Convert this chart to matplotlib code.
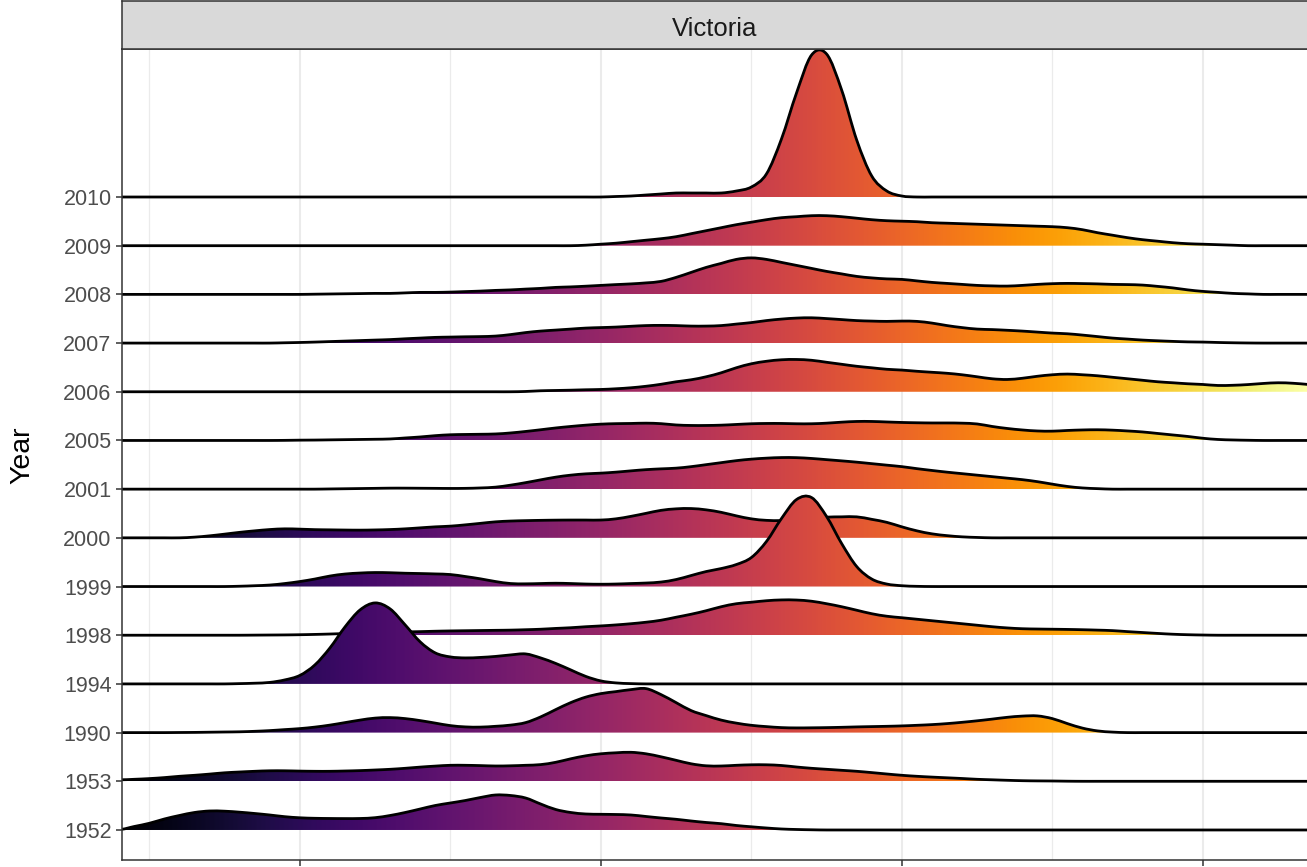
import numpy as np
import matplotlib.pyplot as plt
from matplotlib.path import Path
from matplotlib.patches import PathPatch

plt.rcParams['font.family'] = ['Liberation Sans', 'DejaVu Sans']

years = ['1952', '1953', '1990', '1994', '1998', '1999', '2000',
         '2001', '2005', '2006', '2007', '2008', '2009', '2010']

# density grid (x from 4 to 44.5, step 0.5)
x = np.linspace(4, 44.5, 82)

h1952 = [0.5, 3.5, 6.7, 11, 14.5, 17.5, 19, 18.8, 17.8, 16.5,
         15, 13.3, 12.2, 11.7, 11.5, 11.4, 11.5, 12.3, 14.5, 17.5,
         21, 24.5, 27, 29.5, 32.5, 35, 34.5, 32, 26, 20.5,
         17.5, 16, 15.7, 15.5, 15, 13.5, 12, 10.7, 9, 7.5,
         6.3, 4.5, 3.2, 2, 1, 0.5, 0.2, 0, 0, 0,
         0, 0, 0, 0, 0, 0, 0, 0, 0, 0,
         0, 0, 0, 0, 0, 0, 0, 0, 0, 0,
         0, 0, 0, 0, 0, 0, 0, 0, 0, 0,
         0, 0]
h1953 = [1.5, 2, 2.7, 3.7, 5, 6, 7.2, 8.5, 9.3, 10,
         10.5, 10.5, 10.2, 10, 10, 10.3, 10.7, 11.3, 12, 13,
         14.2, 15.2, 16, 16, 15.7, 15.3, 15.5, 16, 16.7, 19,
         22.5, 25.5, 27.5, 28.5, 29, 27.5, 24.5, 21, 17.5, 15.5,
         15.3, 16, 16.5, 16.5, 15.8, 14.3, 13, 12, 11, 10,
         8.7, 7.3, 6, 5, 4.2, 3.5, 2.8, 2, 1.5, 1,
         0.6, 0.4, 0.3, 0.1, 0, 0, 0, 0, 0, 0,
         0, 0, 0, 0, 0, 0, 0, 0, 0, 0,
         0, 0]
h1990 = [0, 0, 0, 0, 0.1, 0.2, 0.4, 0.6, 0.8, 1.3,
         2, 3, 4, 5.5, 7.5, 10, 12.5, 14.5, 15, 14,
         12, 9.5, 7, 5.7, 5.5, 6.3, 7.5, 10, 15.7, 23,
         30, 35.5, 39, 41, 43, 44, 38, 30, 22, 17,
         12.5, 9.5, 7.3, 6, 5, 4.7, 4.8, 5, 5.3, 5.7,
         6, 6.3, 6.7, 7.3, 8, 9, 10.3, 11.8, 13.5, 15.3,
         16.5, 16.7, 14, 9, 4.5, 1.7, 0.5, 0, 0, 0,
         0, 0, 0, 0, 0, 0, 0, 0, 0, 0,
         0, 0]
h1994 = [0, 0, 0, 0, 0, 0, 0, 0, 0.3, 0.7,
         1.5, 4, 8.5, 19, 36, 57, 74, 81, 75, 59,
         42, 31, 27, 26, 26.5, 27.5, 29, 30, 26, 20.5,
         14, 7.5, 3, 1, 0.3, 0, 0, 0, 0, 0,
         0, 0, 0, 0, 0, 0, 0, 0, 0, 0,
         0, 0, 0, 0, 0, 0, 0, 0, 0, 0,
         0, 0, 0, 0, 0, 0, 0, 0, 0, 0,
         0, 0, 0, 0, 0, 0, 0, 0, 0, 0,
         0, 0]
h1998 = [0, 0, 0, 0, 0, 0, 0, 0, 0, 0.1,
         0.2, 0.3, 0.5, 0.8, 1.2, 1.7, 2.2, 2.7, 3, 3.3,
         3.6, 4, 4.3, 4.5, 4.7, 4.9, 5.1, 5.5, 6, 6.8,
         7.5, 8.5, 9.3, 10.3, 11.5, 13, 15, 18, 21, 24.5,
         28.5, 31.5, 33, 34.5, 35.3, 35.2, 34, 31.5, 28.5, 25,
         21.5, 19, 17.5, 16, 14.5, 13, 11.5, 10, 8.5, 7.3,
         6.5, 6.2, 6, 5.8, 5.5, 5.1, 4.6, 3.6, 2.7, 1.8,
         1, 0.5, 0.2, 0, 0, 0, 0, 0, 0, 0,
         0, 0]
h1999 = [0, 0, 0, 0, 0, 0, 0, 0, 0.3, 0.8,
         1.5, 3, 5, 7.5, 10.5, 12.5, 13.5, 14, 13.8, 13.3,
         13, 12.6, 12, 10, 7.7, 5, 3, 2.7, 3, 3.3,
         3, 2.5, 2.3, 2.5, 3, 3.5, 4.5, 7, 11, 15,
         18, 22, 29, 45, 68, 87, 89, 70, 43, 20,
         7.5, 2.5, 0.8, 0.2, 0, 0, 0, 0, 0, 0,
         0, 0, 0, 0, 0, 0, 0, 0, 0, 0,
         0, 0, 0, 0, 0, 0, 0, 0, 0, 0,
         0, 0]
h2000 = [0, 0, 0, 0, 0, 0.7, 2, 3.7, 5.5, 7,
         8.3, 9, 8.7, 8.2, 8, 7.8, 7.7, 7.9, 8.3, 9,
         10, 11, 11.7, 13, 14.5, 16, 16.8, 17.2, 17.5, 17.7,
         17.8, 17.8, 17.8, 19, 21.5, 24.5, 27.5, 29, 29.3, 28,
         25.5, 22, 19, 17.5, 17.3, 18.2, 19.5, 20.7, 21, 21,
         18.5, 15.5, 11, 7, 4, 2.2, 1, 0.4, 0, 0,
         0, 0, 0, 0, 0, 0, 0, 0, 0, 0,
         0, 0, 0, 0, 0, 0, 0, 0, 0, 0,
         0, 0]
h2001 = [0, 0, 0, 0, 0, 0, 0, 0, 0, 0,
         0, 0, 0, 0, 0.2, 0.4, 0.6, 0.8, 1, 1,
         0.9, 0.8, 0.7, 0.8, 1.2, 2, 4, 6.5, 9.3, 12,
         14, 15.3, 16, 17, 18.3, 19.5, 20.3, 21, 22.5, 24.5,
         26.5, 28.5, 30, 31, 31.6, 31.5, 30.7, 29.5, 28.3, 27,
         25.5, 24, 22.5, 20.5, 18.7, 17, 15.5, 14, 12.5, 11,
         9.5, 7.5, 5, 2.7, 1.2, 0.5, 0, 0, 0, 0,
         0, 0, 0, 0, 0, 0, 0, 0, 0, 0,
         0, 0]
h2005 = [0, 0, 0, 0, 0, 0, 0, 0, 0, 0,
         0, 0.1, 0.3, 0.4, 0.6, 0.8, 1, 1.2, 1.5, 2.5,
         3.5, 4.8, 5.7, 6, 6.2, 6.5, 7.5, 9, 10.7, 12.5,
         14, 15.3, 16.3, 16.8, 17, 17.3, 16.8, 15.5, 15, 15,
         15.3, 16, 16.7, 17, 17, 16.7, 16.7, 17.3, 18.3, 19,
         19, 18.5, 18, 17.7, 17.5, 17.5, 17.3, 16.5, 14, 12,
         10.5, 9.5, 9.3, 10, 10.5, 10.7, 10.3, 9.5, 8.5, 7,
         5.5, 4, 2.2, 1, 0.5, 0.2, 0, 0, 0, 0,
         0, 0]
h2006 = [0, 0, 0, 0, 0, 0, 0, 0, 0, 0,
         0, 0, 0, 0, 0, 0, 0, 0, 0, 0,
         0, 0, 0, 0, 0, 0, 0, 0.3, 1, 1.3,
         1.6, 2, 2.3, 3, 4, 5.5, 7.5, 10, 12, 15,
         19, 24, 28, 30.5, 32, 32.3, 31.5, 29.5, 27.5, 25.5,
         24, 22.5, 21.7, 20.5, 19.5, 18.5, 17, 15, 13, 12.3,
         13.5, 15.5, 17, 17.7, 17, 16, 14.5, 13, 11.5, 10,
         9, 8, 7.3, 6.3, 6.5, 7.2, 8.3, 9, 8.5, 7.3,
         6, 4.5]
h2007 = [0, 0, 0, 0, 0, 0, 0, 0, 0, 0,
         0, 0.3, 0.6, 1, 1.5, 2, 2.5, 3, 3.5, 4.3,
         5, 5.7, 6, 6.3, 6.5, 7, 8.5, 10.5, 12, 13,
         14, 15, 15.5, 16, 16.8, 17.5, 17.7, 17.5, 17, 17,
         17.5, 19, 20.5, 22.5, 24, 25, 25.3, 24.5, 23.5, 22.5,
         22, 21.7, 22, 21.7, 20, 17.5, 15.5, 14, 13.5, 12.8,
         12, 11, 10, 9.3, 8, 6.5, 5, 4, 3, 2.3,
         1.7, 1.2, 1, 0.6, 0.3, 0.1, 0, 0, 0, 0,
         0, 0]
h2008 = [0, 0, 0, 0, 0, 0, 0, 0, 0, 0,
         0, 0, 0, 0.2, 0.4, 0.6, 0.8, 1, 1, 1.5,
         2, 2, 2.3, 2.8, 3.3, 4, 4.5, 5.3, 6, 7,
         7.5, 8.2, 9, 9.8, 10.5, 11.5, 13, 17, 22, 27,
         31, 35, 36.5, 35, 32, 29, 26, 23, 20.5, 18,
         16.5, 15.5, 15, 13.5, 12, 11, 10, 9, 8.5, 8.3,
         9, 10, 10.7, 11, 10.8, 10.5, 10, 9.8, 9.3, 8,
         6.5, 4.5, 3, 2, 1, 0.5, 0, 0, 0, 0,
         0, 0]
h2009 = [0, 0, 0, 0, 0, 0, 0, 0, 0, 0,
         0, 0, 0, 0, 0, 0, 0, 0, 0, 0,
         0, 0, 0, 0, 0, 0, 0, 0, 0, 0,
         0, 0.5, 1.5, 2.5, 4, 5.5, 7, 9, 12, 15,
         18, 21, 23.5, 26, 28, 29, 30, 30, 29, 27.5,
         26, 25, 24.5, 24, 23, 22.5, 22, 21.5, 21, 20.5,
         20, 19.5, 19, 18, 16, 13, 10.5, 8, 6, 4.5,
         3, 2, 1.5, 1, 0.5, 0, 0, 0, 0, 0,
         0, 0]
h2010 = [0, 0, 0, 0, 0, 0, 0, 0, 0, 0,
         0, 0, 0, 0, 0, 0, 0, 0, 0, 0,
         0, 0, 0, 0, 0, 0, 0, 0, 0, 0,
         0, 0, 0, 0.5, 1, 2, 3, 4, 4, 4,
         4, 6, 10, 23, 58, 104, 142, 143, 107, 57,
         21, 6, 1, 0, 0, 0, 0, 0, 0, 0,
         0, 0, 0, 0, 0, 0, 0, 0, 0, 0,
         0, 0, 0, 0, 0, 0, 0, 0, 0, 0,
         0, 0]

ridges = [h1952, h1953, h1990, h1994, h1998, h1999, h2000,
          h2001, h2005, h2006, h2007, h2008, h2009, h2010]

xmin, xmax = 4.09, 43.49
scale = 1 / 48.7


def smooth_path(xs, ys):
    # bezier segments through each point (drawn as a smooth line)
    ys = np.asarray(ys, float)
    dx = xs[1] - xs[0]
    m = np.zeros(len(ys))
    m[1:-1] = (ys[2:] - ys[:-2]) / 2
    m[ys == 0] = 0
    verts = [(xs[0], ys[0])]
    codes = [Path.MOVETO]
    for i in range(len(xs) - 1):
        verts += [(xs[i] + dx / 3, ys[i] + m[i] / 3),
                  (xs[i + 1] - dx / 3, ys[i + 1] - m[i + 1] / 3),
                  (xs[i + 1], ys[i + 1])]
        codes += [Path.CURVE4] * 3
    return verts, codes


fig = plt.figure(figsize=(13.07, 8.67), dpi=100)
ax = fig.add_axes([0.0933, 0.0081, 0.9074, 0.9354])

ax.set_xticks([10, 20, 30, 40])
ax.set_xticks([5, 15, 25, 35], minor=True)
ax.grid(True, which='major', axis='x', color='#EBEBEB', lw=1.5, zorder=0)
ax.grid(True, which='minor', axis='x', color='#EBEBEB', lw=0.9, zorder=0)
ax.tick_params(axis='x', which='minor', length=0)
ax.tick_params(axis='x', labelbottom=False)

grad = np.linspace(0, 1, 512).reshape(1, -1)
for k, h in enumerate(ridges):
    top = k + np.array(h) * scale
    z = 10 + (len(ridges) - k) * 2
    verts, codes = smooth_path(x, top)
    fill = PathPatch(Path(verts + [(x[-1], k), (x[0], k), (x[0], k)],
                          codes + [Path.LINETO, Path.LINETO, Path.CLOSEPOLY]),
                     fc='none', ec='none')
    ax.add_patch(fill)
    im = ax.imshow(grad, extent=(xmin, xmax, k, k + 3.2), aspect='auto',
                   cmap='inferno', origin='lower', zorder=z,
                   interpolation='bilinear')
    im.set_clip_path(fill)
    ax.add_patch(PathPatch(Path(verts, codes), fc='none', ec='black',
                           lw=2.0, zorder=z + 1, joinstyle='round'))

ax.set_xlim(xmin, xmax)
ax.set_ylim(-0.616, 16.04)
ax.set_yticks(range(len(years)))
ax.set_yticklabels(years)
ax.tick_params(axis='both', which='major', length=4.5, width=1.1,
               color='#333333', labelsize=15.5, labelcolor='#4D4D4D', pad=3)
for s in ax.spines.values():
    s.set_color('#333333')
    s.set_linewidth(1.1)
    s.set_zorder(100)

fig.text(0.0168, 1 - 455 / 867, 'Year', rotation=90, ha='center',
         va='center', fontsize=20.5)

# facet strip
sax = fig.add_axes([0.0933, 0.9435, 0.9074, 0.0554])
sax.set_facecolor('#D9D9D9')
sax.set_xticks([])
sax.set_yticks([])
for s in sax.spines.values():
    s.set_color('#333333')
    s.set_linewidth(1.1)
sax.text(0.5, 0.265, 'Victoria', ha='center', va='baseline', fontsize=18.5,
         color='#1A1A1A', transform=sax.transAxes)

fig.savefig('out.png', dpi=100)
